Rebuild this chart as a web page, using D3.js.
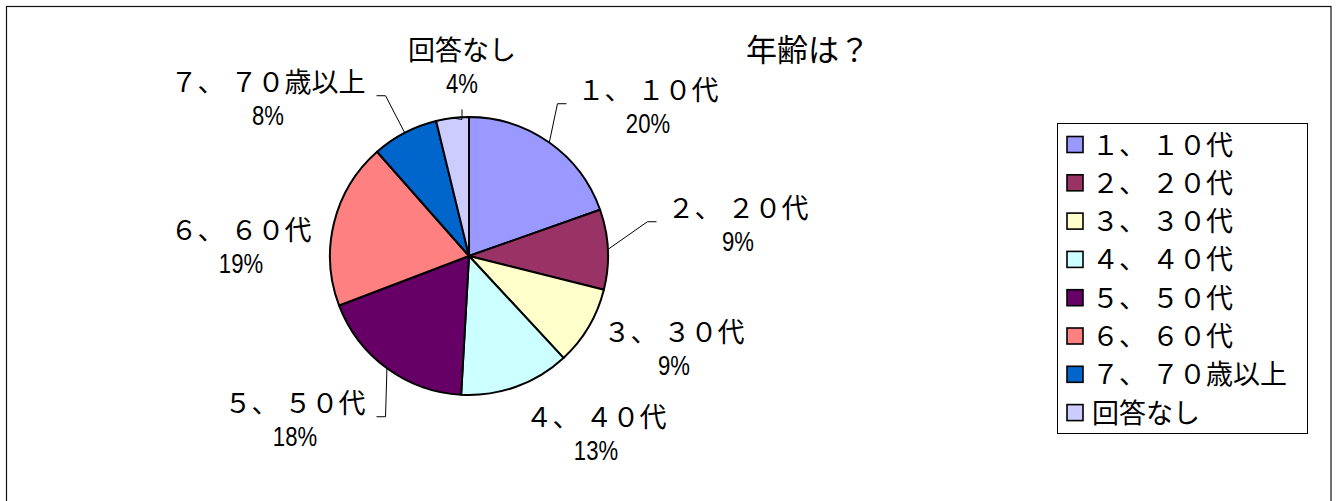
<!DOCTYPE html>
<html>
<head>
<meta charset="utf-8">
<script src="https://cdn.jsdelivr.net/npm/d3@7"></script>
<style>
  html, body { margin: 0; padding: 0; background: #fff; }
  svg { display: block; }
</style>
</head>
<body>
<svg id="chart" width="1338" height="501"></svg>
<script>
// ---- data ----
const title = "年齢は？";
const categories = ["１、 １０代", "２、 ２０代", "３、 ３０代", "４、 ４０代", "５、 ５０代", "６、 ６０代", "７、 ７０歳以上", "回答なし"];
const values = [19.6, 9.3, 9.2, 12.8, 18.3, 19.3, 7.7, 3.8];
const colors = ["#9999FF", "#993366", "#FFFFCC", "#CCFFFF", "#660066", "#FF8080", "#0066CC", "#CCCCFF"];

// ---- layout (label placement relative to pie centre, leader flags) ----
const labelOffsets = [[179, -156], [269, -38], [205, 86], [127, 171], [-174, 157], [-228, -16], [-201, -164], [-7, -196]];
const showLeader = [true, true, false, false, true, false, true, true];

const svg = d3.select("#chart");
const W = 1338, H = 501;
const cx = 469, cy = 256, R = 139;
const cjk = "'Noto Sans CJK JP', 'Noto Sans CJK SC', sans-serif";
const narrow = "'Liberation Sans', Arial, sans-serif";

svg.append("rect").attr("width", W).attr("height", H).attr("fill", "#fff");
// outer border
svg.append("rect").attr("x", 6.5).attr("y", 6.5).attr("width", 1324.5).attr("height", 600)
  .attr("fill", "none").attr("stroke", "#111").attr("stroke-width", 1.2);

// title
svg.append("text").attr("x", 746).attr("y", 61)
  .attr("font-family", cjk).attr("font-size", 31).attr("fill", "#000").text(title);

const total = d3.sum(values);
const pie = d3.pie().sort(null).value(d => d).startAngle(0).endAngle(2 * Math.PI);
const arcs = pie(values);
const arc = d3.arc().innerRadius(0).outerRadius(R);

const g = svg.append("g").attr("transform", `translate(${cx},${cy})`);
g.selectAll("path.slice").data(arcs).enter().append("path")
  .attr("class", "slice")
  .attr("d", arc)
  .attr("fill", (d, i) => colors[i])
  .attr("stroke", "#000").attr("stroke-width", 2).attr("stroke-linejoin", "round");

// labels
const labelG = g.append("g");
const leaderG = g.append("g");
arcs.forEach((d, i) => {
  const [lx, ly] = labelOffsets[i];
  const lg = labelG.append("g");
  lg.append("text").attr("x", lx).attr("y", ly).attr("text-anchor", "middle")
    .attr("font-family", cjk).attr("font-size", 27).attr("fill", "#000").text(categories[i]);
  lg.append("text").attr("transform", `translate(${lx},${ly + 33}) scale(0.82,1)`)
    .attr("text-anchor", "middle")
    .attr("font-family", narrow).attr("font-size", 27).attr("fill", "#000")
    .text(Math.round(d.value / total * 100) + "%");
  if (!showLeader[i]) return;
  const bb = lg.node().getBBox();
  const mid = (d.startAngle + d.endAngle) / 2;
  const px = R * Math.sin(mid), py = -R * Math.cos(mid);
  const pad = 11, stub = 9;
  let anchor, elbow;
  if (px < bb.x) {
    anchor = [bb.x - pad, bb.y + bb.height / 2];
    elbow = [anchor[0] - stub, anchor[1]];
  } else if (px > bb.x + bb.width) {
    anchor = [bb.x + bb.width + pad, bb.y + bb.height / 2];
    elbow = [anchor[0] + stub, anchor[1]];
  } else {
    anchor = [bb.x + bb.width / 2, bb.y + bb.height + pad];
    elbow = [anchor[0], anchor[1] + stub + 1];
  }
  leaderG.append("path")
    .attr("d", d3.line()([[px, py], elbow, anchor]))
    .attr("fill", "none").attr("stroke", "#000").attr("stroke-width", 1);
});

// legend
const lgX = 1057, lgY = 123, lgW = 250, lgH = 310;
const legend = svg.append("g");
legend.append("rect").attr("x", lgX + 0.5).attr("y", lgY + 0.5).attr("width", lgW).attr("height", lgH)
  .attr("fill", "#fff").attr("stroke", "#000").attr("stroke-width", 1);
const rowY = d3.scalePoint().domain(d3.range(categories.length)).range([144.5, 412.6]);
categories.forEach((c, i) => {
  const y = rowY(i);
  legend.append("rect").attr("x", 1067).attr("y", y - 8).attr("width", 16).attr("height", 16)
    .attr("fill", colors[i]).attr("stroke", "#000").attr("stroke-width", 1.6);
  legend.append("text").attr("x", 1092).attr("y", y + 10)
    .attr("font-family", cjk).attr("font-size", 27).attr("fill", "#000").text(c);
});
</script>
</body>
</html>
